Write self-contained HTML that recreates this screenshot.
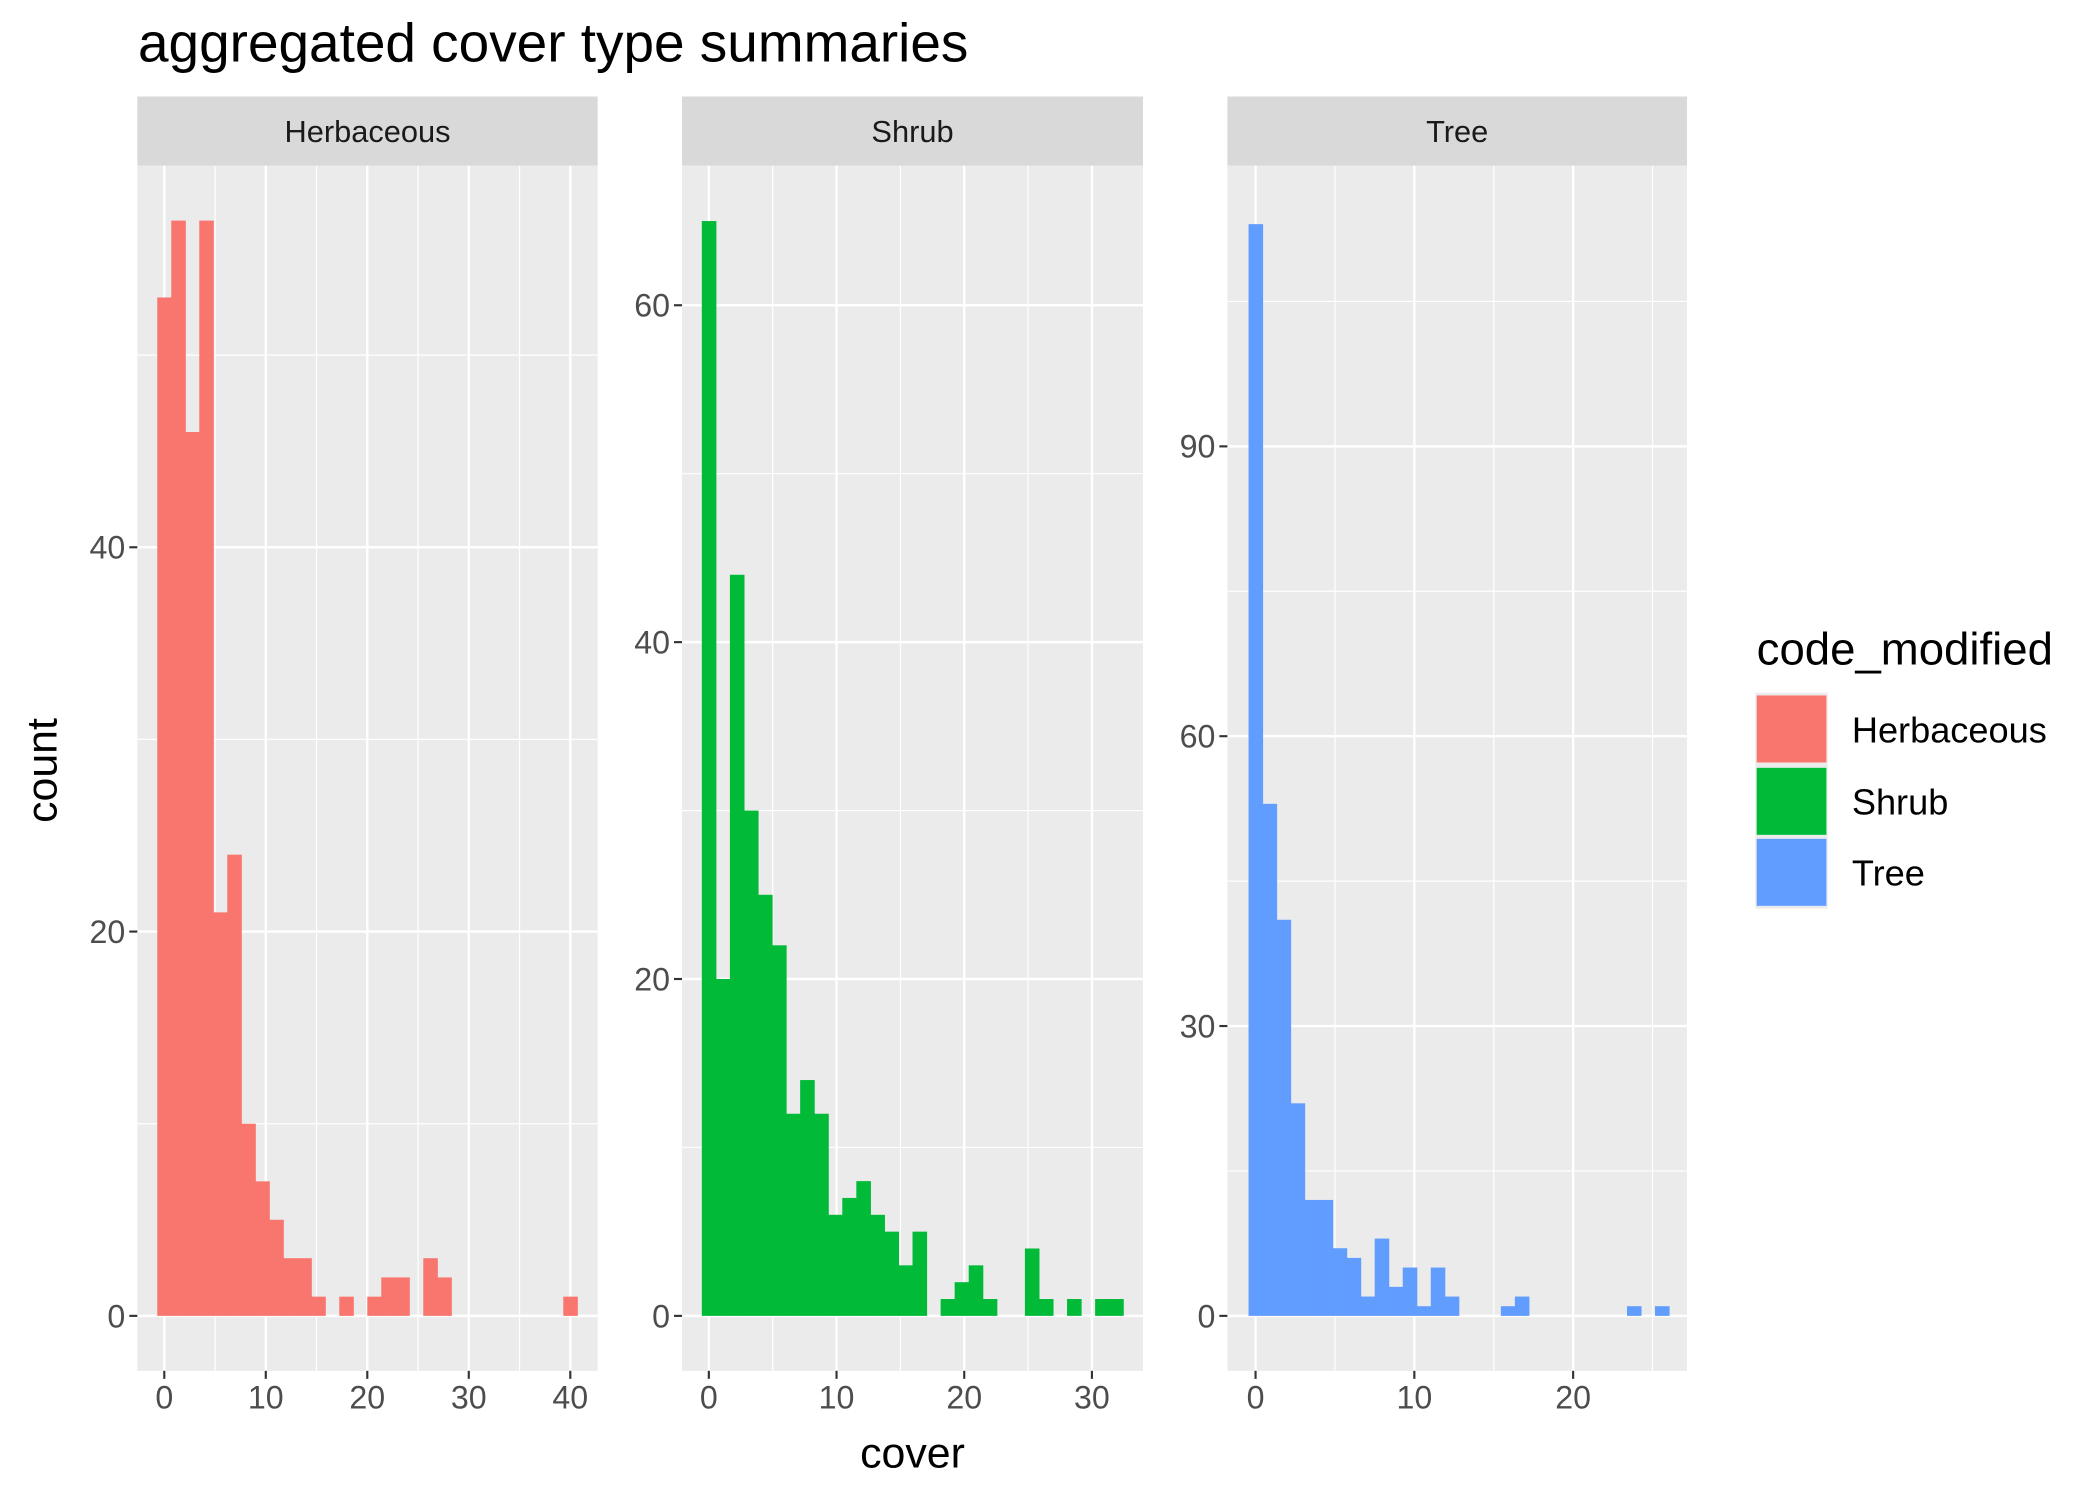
<!DOCTYPE html>
<html><head><meta charset="utf-8"><style>
html,body{margin:0;padding:0;background:#fff;}
svg{display:block;font-family:"Liberation Sans",Arial,sans-serif;}
</style></head><body>
<svg id="chart" width="2100" height="1500" viewBox="0 0 1567.2 1119.4" xmlns="http://www.w3.org/2000/svg">
<text x="103" y="46" font-size="41" fill="#000">aggregated cover type summaries</text>
<g id="panels"></g>
<text x="681" y="1095" font-size="32" text-anchor="middle" fill="#000">cover</text>
<text transform="translate(42,575) rotate(-90)" font-size="32" text-anchor="middle" fill="#000">count</text>
<g>
<text x="1311" y="496" font-size="34" fill="#000">code_modified</text>
<rect x="1310" y="517" width="54" height="161" fill="#EBEBEB"/>
<rect x="1311" y="519" width="52" height="50" fill="#F8766D"/>
<rect x="1311" y="573" width="52" height="50" fill="#00BA38"/>
<rect x="1311" y="626" width="52" height="50" fill="#619CFF"/>
<text x="1382" y="554" font-size="27" fill="#000">Herbaceous</text>
<text x="1382" y="608" font-size="27" fill="#000">Shrub</text>
<text x="1382" y="661" font-size="27" fill="#000">Tree</text>
</g>
</svg>
<script>
const panelNames = ["Herbaceous", "Shrub", "Tree"];
const herbCounts = [53,57,46,57,21,24,10,7,5,3,3,1,0,1,0,1,2,2,0,3,2,0,0,0,0,0,0,0,0,1];
const shrubCounts = [65,20,44,30,25,22,12,14,12,6,7,8,6,5,3,5,0,1,2,3,1,0,0,4,1,0,1,0,1,1];
const treeCounts = [113,53,41,22,12,12,7,6,2,8,3,5,1,5,2,0,0,0,1,2,0,0,0,0,0,0,0,1,0,1];
const herbRange = [0, 40];
const shrubRange = [0, 31.9];
const treeRange = [0, 25.6];
const herbXTicks = [0,10,20,30,40];
const shrubXTicks = [0,10,20,30];
const treeXTicks = [0,10,20];
const herbYTicks = [0,20,40];
const shrubYTicks = [0,20,40,60];
const treeYTicks = [0,30,60,90];

const NS = "http://www.w3.org/2000/svg";
const root = document.getElementById("panels");
function mk(tag, attrs, parent){
  const e = document.createElementNS(NS, tag);
  for (const k in attrs) e.setAttribute(k, attrs[k]);
  parent.appendChild(e);
  return e;
}
const pTop = 123.7, pBottom = 1023, zeroY = 982;
const cfg = [
  {name:"herbaceous", counts:herbCounts, range:herbRange, xt:herbXTicks, yt:herbYTicks, left:102.5, right:446, x0:122.6, xs:7.575, ys:14.34, xmin:[5,15,25,35], ymin:[10,30,50], color:"#F8766D"},
  {name:"shrub", counts:shrubCounts, range:shrubRange, xt:shrubXTicks, yt:shrubYTicks, left:509, right:853, x0:529, xs:9.53, ys:12.57, xmin:[5,15,25], ymin:[10,30,50], color:"#00BA38"},
  {name:"tree", counts:treeCounts, range:treeRange, xt:treeXTicks, yt:treeYTicks, left:916, right:1259, x0:937, xs:11.85, ys:7.21, xmin:[5,15,25], ymin:[15,45,75,105], color:"#619CFF"}
];
cfg.forEach((c, pi) => {
  const g = mk("g", {}, root);
  
  
  const xS = v => c.x0 + v * c.xs;
  const yS = v => zeroY - v * c.ys;
  const strip = mk("rect", {x:c.left, y:72, width:c.right-c.left, height:pTop-72, fill:"#D9D9D9"}, g);
  
  
  const st = mk("text", {x:(c.left+c.right)/2, y:106, "font-size":23, "text-anchor":"middle", fill:"#1A1A1A"}, g);
  st.textContent = panelNames[pi];
  
  
  const bg = mk("rect", {x:c.left, y:pTop, width:c.right-c.left, height:pBottom-pTop, fill:"#EBEBEB"}, g);
  
  
  c.xmin.forEach(v => { const l = mk("line", {x1:xS(v), x2:xS(v), y1:pTop, y2:pBottom, stroke:"#fff", "stroke-width":0.9}, g);
      });
  c.ymin.forEach(v => { const l = mk("line", {x1:c.left, x2:c.right, y1:yS(v), y2:yS(v), stroke:"#fff", "stroke-width":0.9}, g);
      });
  c.xt.forEach(v => { const l = mk("line", {x1:xS(v), x2:xS(v), y1:pTop, y2:pBottom, stroke:"#fff", "stroke-width":1.8}, g);
      });
  c.yt.forEach(v => { const l = mk("line", {x1:c.left, x2:c.right, y1:yS(v), y2:yS(v), stroke:"#fff", "stroke-width":1.8}, g);
      });
  const n = c.counts.length;
  const bw = (c.range[1] - c.range[0]) / (n - 1);
  c.counts.forEach((v, i) => {
    if (v <= 0) return;
    const xl = xS(c.range[0] + (i - 0.5) * bw), xr = xS(c.range[0] + (i + 0.5) * bw);
    const r = mk("rect", {x:xl, y:yS(v), width:xr-xl+0.4, height:yS(0)-yS(v), fill:c.color}, g);
    
    
  });
  c.xt.forEach(v => {
    const t = mk("line", {x1:xS(v), x2:xS(v), y1:pBottom, y2:pBottom+6, stroke:"#333", "stroke-width":1.6}, g);
     
    const lb = mk("text", {x:xS(v), y:pBottom+28, "font-size":24, "text-anchor":"middle", fill:"#4D4D4D"}, g);
    lb.textContent = v;
     
  });
  c.yt.forEach(v => {
    const t = mk("line", {x1:c.left-6, x2:c.left, y1:yS(v), y2:yS(v), stroke:"#333", "stroke-width":1.6}, g);
     
    const lb = mk("text", {x:c.left-9, y:yS(v)+8.5, "font-size":24, "text-anchor":"end", fill:"#4D4D4D"}, g);
    lb.textContent = v;
     
  });
});
</script>
</body></html>
